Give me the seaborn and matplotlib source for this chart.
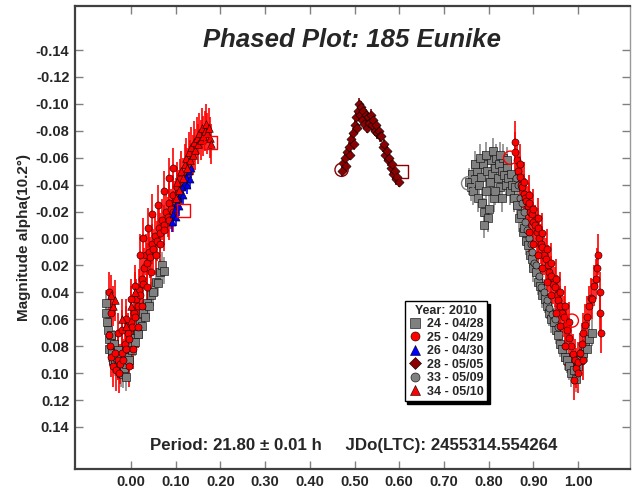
import matplotlib
matplotlib.use("Agg")
import matplotlib.pyplot as plt
import seaborn as sns
import numpy as np
import pandas as pd
from matplotlib.lines import Line2D

# ---------------- data (phase, magnitude) ----------------
s24_x = [-0.055, -0.055, -0.053, -0.052, -0.05, -0.048, -0.045, -0.043, -0.04, -0.038, -0.035, -0.032,
         -0.03, -0.028, -0.025, -0.022, -0.02, -0.018, -0.015, -0.012, -0.01, -0.008, -0.005, -0.002,
         0.0, 0.003, 0.006, 0.01, 0.013, 0.016, 0.02, 0.024, 0.028, 0.032, 0.036, 0.04, 0.045, 0.05,
         0.055, 0.06, 0.065, 0.07, 0.074,
         0.757, 0.76, 0.763, 0.766, 0.77, 0.773, 0.776, 0.779, 0.782, 0.785, 0.788, 0.79, 0.793, 0.796,
         0.799, 0.802, 0.805, 0.808, 0.811, 0.814, 0.817, 0.82, 0.823, 0.826, 0.829, 0.832, 0.835, 0.838,
         0.841, 0.844, 0.847, 0.85, 0.853, 0.856, 0.86, 0.864, 0.868, 0.872, 0.876, 0.88, 0.884, 0.888,
         0.892, 0.896, 0.9, 0.905, 0.91, 0.915, 0.92, 0.925, 0.93, 0.935, 0.94, 0.945, 0.95, 0.955, 0.96,
         0.965, 0.97, 0.975, 0.98, 0.985, 0.99, 0.995, 1.0, 1.005, 1.01, 1.015, 1.02, 1.025, 1.03,
         0.77, 0.78, 0.795, 0.81, 0.825, 0.84, 0.79, 0.8, 0.815, 0.83]
s24_y = [0.048, 0.055, 0.062, 0.068, 0.075, 0.082, 0.072, 0.085, 0.09, 0.078, 0.092, 0.088,
         0.095, 0.083, 0.098, 0.1, 0.092, 0.101, 0.096, 0.103, 0.093, 0.088, 0.09, 0.082,
         0.078, 0.083, 0.074, 0.077, 0.068, 0.071, 0.062, 0.065, 0.055, 0.058, 0.048, 0.05, 0.042, 0.04,
         0.032, 0.033, 0.025, 0.02, 0.024,
         -0.042, -0.038, -0.048, -0.035, -0.044, -0.05, -0.03, -0.04, -0.046, -0.026, -0.055, -0.02, -0.035, -0.05,
         -0.015, -0.042, -0.058, -0.048, -0.03, -0.052, -0.06, -0.045, -0.055, -0.038, -0.05, -0.06, -0.047, -0.04,
         -0.053, -0.045, -0.035, -0.048, -0.04, -0.03, -0.038, -0.025, -0.015, -0.018, -0.005, -0.008, 0.002, 0.005,
         0.012, 0.015, 0.022, 0.025, 0.032, 0.035, 0.042, 0.045, 0.05, 0.055, 0.06, 0.062, 0.068, 0.072, 0.078,
         0.082, 0.088, 0.09, 0.095, 0.1, 0.098, 0.104, 0.095, 0.09, 0.085, 0.08, 0.082, 0.075, 0.07,
         -0.055, -0.06, -0.062, -0.065, -0.062, -0.058, -0.01, -0.022, -0.035, -0.03]

s25_x = [-0.048, -0.046, -0.044, -0.04, -0.036, -0.033, -0.03, -0.027, -0.024, -0.02, -0.017, -0.014,
         -0.01, -0.007, -0.004, 0.0, 0.003, 0.006, 0.009, 0.012, 0.015, 0.018, 0.021, 0.024, 0.027, 0.03,
         0.033, 0.036, 0.04, 0.043, 0.047, 0.05, 0.054, 0.058, 0.062, 0.066, 0.07, 0.074, 0.078, 0.082,
         0.086, 0.09, 0.094, 0.098, 0.102, 0.106, 0.11,
         -0.05, -0.045, -0.03, -0.02, -0.01, 0.0, 0.01, 0.02, 0.028, 0.038, 0.048, 0.06, 0.075, 0.085, 0.095,
         -0.005, 0.005, 0.015, 0.025, 0.035, 0.045, 0.055, 0.065, 0.075, 0.085, 0.095, 0.105,
         0.858, 0.86, 0.863, 0.866, 0.869, 0.872, 0.875, 0.878, 0.881, 0.884, 0.887, 0.89, 0.893, 0.896,
         0.9, 0.904, 0.907, 0.91, 0.913, 0.917, 0.92, 0.924, 0.928, 0.932, 0.936, 0.94, 0.944, 0.948,
         0.952, 0.956, 0.96, 0.964, 0.968, 0.972, 0.976, 0.98, 0.984, 0.988, 0.992, 0.996, 1.0, 1.004,
         1.008, 1.012, 1.016, 1.02, 1.024, 1.028, 1.032, 1.036, 1.04, 1.043, 1.045, 1.048, 1.05, 1.052,
         0.87, 0.88, 0.89, 0.9, 0.91, 0.92, 0.93, 0.94, 0.95, 0.96, 0.97, 0.98,
         0.89, 0.9, 0.91, 0.92, 0.93, 0.94, 0.95, 0.96, 0.97, 0.99, 1.0, 1.01]
s25_y = [0.072, 0.08, 0.088, 0.095, 0.085, 0.098, 0.09, 0.1, 0.093, 0.085, 0.09, 0.078,
         0.082, 0.07, 0.075, 0.062, 0.066, 0.055, 0.058, 0.045, 0.05, 0.038, 0.042, 0.03, 0.034, 0.022,
         0.012, 0.018, 0.01, 0.014, 0.004, 0.008, -0.002, 0.002, -0.008, -0.004, -0.014, -0.01, -0.02, -0.016,
         -0.026, -0.022, -0.032, -0.028, -0.038, -0.034, -0.044,
         0.04, 0.055, 0.07, 0.068, 0.06, 0.045, 0.035, 0.012, 0.0, -0.008, -0.018, -0.025, -0.035, -0.045, -0.052,
         0.095, 0.082, 0.066, 0.05, 0.036, 0.025, 0.012, 0.004, -0.006, -0.014, -0.02, -0.028,
         -0.072, -0.064, -0.058, -0.05, -0.046, -0.04, -0.038, -0.033, -0.03, -0.028, -0.024, -0.026, -0.02, -0.018,
         -0.012, -0.01, -0.005, -0.008, 0.0, 0.004, 0.006, 0.012, 0.015, 0.02, 0.025, 0.028, 0.034, 0.036,
         0.042, 0.046, 0.05, 0.055, 0.058, 0.064, 0.068, 0.074, 0.08, 0.086, 0.09, 0.096, 0.092, 0.085,
         0.078, 0.07, 0.064, 0.058, 0.05, 0.044, 0.045, 0.035, 0.03, 0.022, 0.012, 0.04, 0.055, 0.07,
         -0.055, -0.042, -0.032, -0.022, -0.015, -0.004, 0.008, 0.018, 0.03, 0.04, 0.05, 0.062,
         -0.005, 0.004, 0.012, 0.022, 0.032, 0.042, 0.055, 0.065, 0.08, 0.105, 0.1, 0.09]

s26_x = [0.092, 0.095, 0.098, 0.1, 0.103, 0.106, 0.108, 0.111, 0.114, 0.117, 0.12, 0.123, 0.126,
         0.129, 0.132, 0.135]
s26_y = [-0.012, -0.018, -0.022, -0.016, -0.026, -0.03, -0.024, -0.034, -0.038, -0.032, -0.042, -0.046,
         -0.04, -0.05, -0.044, -0.052]

s28_x = [0.472, 0.475, 0.478, 0.481, 0.484, 0.487, 0.49, 0.493, 0.496, 0.498, 0.5, 0.503, 0.505, 0.507,
         0.51, 0.512, 0.514, 0.517, 0.52, 0.522, 0.525, 0.528, 0.53, 0.533, 0.536, 0.539, 0.542, 0.545,
         0.548, 0.551, 0.554, 0.557, 0.56, 0.563, 0.566, 0.569, 0.572, 0.575, 0.578, 0.581, 0.584, 0.587,
         0.59, 0.593, 0.596, 0.599]
s28_y = [-0.05, -0.056, -0.06, -0.054, -0.064, -0.068, -0.062, -0.074, -0.078, -0.07, -0.084, -0.09, -0.082, -0.095,
         -0.1, -0.092, -0.098, -0.088, -0.095, -0.085, -0.092, -0.082, -0.09, -0.086, -0.092, -0.084, -0.088, -0.08,
         -0.084, -0.078, -0.08, -0.076, -0.076, -0.068, -0.07, -0.062, -0.065, -0.058, -0.06, -0.052, -0.055, -0.048,
         -0.05, -0.044, -0.046, -0.042]

s33_x = [0.862, 0.866, 0.87, 0.874, 0.878, 0.882, 0.886, 0.89, 0.894, 0.898, 0.902, 0.906, 0.912, 0.918,
         0.924, 0.93, 0.936, 0.942, 0.948, 0.954]
s33_y = [-0.045, -0.04, -0.03, -0.026, -0.02, -0.012, -0.006, 0.0, 0.004, 0.01, 0.018, 0.02, 0.028, 0.036,
         0.04, 0.046, 0.052, 0.056, 0.06, 0.066]

s34_x = [-0.045, -0.04, -0.035, -0.02, -0.012, 0.0, 0.01,
         0.1, 0.104, 0.108, 0.112, 0.116, 0.12, 0.123, 0.126, 0.129, 0.132, 0.135, 0.138, 0.141, 0.144,
         0.147, 0.15, 0.153, 0.156, 0.159, 0.162, 0.165, 0.168, 0.171, 0.174, 0.177, 0.18]
s34_y = [0.042, 0.05, 0.046, 0.06, 0.065, 0.05, 0.04,
         -0.03, -0.042, -0.036, -0.05, -0.045, -0.055, -0.06, -0.052, -0.064, -0.058, -0.068, -0.062, -0.072, -0.066,
         -0.075, -0.07, -0.078, -0.073, -0.082, -0.076, -0.08, -0.085, -0.078, -0.082, -0.075, -0.07]

# session start (open) markers
open_x = [0.178, 0.117, 0.471, 0.605, 0.848, 0.754, 0.986]
open_y = [-0.071, -0.021, -0.051, -0.05, -0.06, -0.041, 0.061]
open_marker = ["s", "s", "o", "s", "o", "o", "o"]
open_color = ["#ff0000", "#ff0000", "#8b0000", "#8b0000", "#ff0000", "#808080", "#ff0000"]

labels = ["24 - 04/28", "25 - 04/29", "26 - 04/30", "28 - 05/05", "33 - 05/09", "34 - 05/10"]
colors = ["#808080", "#ff0000", "#0000ff", "#8b0000", "#808080", "#ff0000"]
markers = ["s", "o", "^", "D", "o", "^"]
errs = [0.010, 0.015, 0.007, 0.004, 0.010, 0.015]
xticks = [0.0, 0.1, 0.2, 0.3, 0.4, 0.5, 0.6, 0.7, 0.8, 0.9, 1.0]
yticks = [-0.14, -0.12, -0.10, -0.08, -0.06, -0.04, -0.02, 0.0, 0.02, 0.04, 0.06, 0.08, 0.10, 0.12, 0.14]

series = {
    labels[0]: (s24_x, s24_y),
    labels[1]: (s25_x, s25_y),
    labels[2]: (s26_x, s26_y),
    labels[3]: (s28_x, s28_y),
    labels[4]: (s33_x, s33_y),
    labels[5]: (s34_x, s34_y),
}

# ---------------- style ----------------
sns.set_style("white")
plt.rcParams["font.family"] = ["Liberation Sans", "DejaVu Sans"]
plt.rcParams["axes.unicode_minus"] = False

fig = plt.figure(figsize=(6.32, 4.90), dpi=100)
ax = fig.add_axes([0.1187, 0.0429, 0.8781, 0.9449])

draw_order = [0, 4, 3, 1, 2, 5]
sizes = [26, 26, 26, 22, 26, 30]
ecolors = ["#8a8a8a", "#ff0000", "#0000ff", "#8b0000", "#8a8a8a", "#ff0000"]
for i in draw_order:
    lab = labels[i]
    xs, ys = series[lab]
    df = pd.DataFrame({"phase": xs, "mag": ys})
    ax.errorbar(df["phase"], df["mag"], yerr=errs[i], fmt="none",
                ecolor=ecolors[i], elinewidth=1.2, capsize=0, zorder=2)
    sns.scatterplot(data=df, x="phase", y="mag", ax=ax, marker=markers[i],
                    color=colors[i], s=sizes[i], edgecolor="black",
                    linewidth=0.4, legend=False, zorder=3)

for x, y, m, c in zip(open_x, open_y, open_marker, open_color):
    ax.scatter([x], [y], marker=m, s=90, facecolor="none", edgecolor=c,
               linewidth=1.0, zorder=4)

ax.set_xlim(-0.125, 1.116)
ax.set_ylim(0.1712, -0.1727)
ax.set_xticks(xticks)
ax.set_yticks(yticks)
ax.set_xticklabels([f"{v:.2f}" for v in xticks], fontsize=10.5, fontweight="bold")
ax.set_yticklabels([f"{v:.2f}" for v in yticks], fontsize=10.5, fontweight="bold")
ax.tick_params(direction="in", length=6, width=1, color="#808080",
               top=True, right=True, bottom=True, left=True, pad=4)
ax.set_xlabel("")
ax.set_ylabel("Magnitude alpha(10.2°)", fontsize=11, fontweight="bold", labelpad=3)

for side in ["left", "bottom", "top"]:
    ax.spines[side].set_color("#404040")
    ax.spines[side].set_linewidth(1.6)
ax.spines["right"].set_color("#999999")
ax.spines["right"].set_linewidth(1.0)

ax.text(0.5, 0.927, "Phased Plot: 185 Eunike", transform=ax.transAxes,
        ha="center", va="center", fontsize=18.5, fontweight="bold", fontstyle="italic")
ax.text(0.503, 0.05, "Period: 21.80 \u00b1 0.01 h     JDo(LTC): 2455314.554264",
        transform=ax.transAxes, ha="center", va="center", fontsize=12.2, fontweight="bold")

handles = [Line2D([0], [0], marker=markers[i], linestyle="none", markerfacecolor=colors[i],
                  markeredgecolor="black", markeredgewidth=0.4, markersize=6.5)
           for i in range(len(labels))]
leg = ax.legend(handles, labels, title="Year: 2010", loc="upper left",
                bbox_to_anchor=(0.594, 0.363), frameon=True, fancybox=False,
                shadow={"color": "black", "alpha": 1.0},
                prop={"size": 9, "weight": "bold"}, title_fontproperties={"size": 9, "weight": "bold"},
                labelspacing=0.12, handletextpad=0.45, handlelength=1.0, borderpad=0.3,
                borderaxespad=0)
leg.get_frame().set_edgecolor("black")
leg.get_frame().set_linewidth(1.0)

fig.savefig("out.png", dpi=100)
